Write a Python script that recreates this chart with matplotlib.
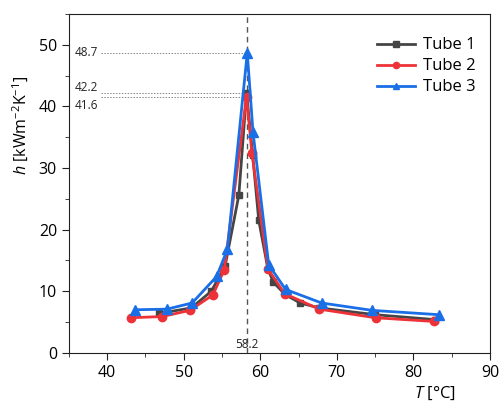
import matplotlib
matplotlib.use("Agg")
import matplotlib.pyplot as plt
from matplotlib.ticker import MultipleLocator

plt.rcParams['font.family'] = ['Open Sans', 'DejaVu Sans']
plt.rcParams['mathtext.fontset'] = 'custom'
plt.rcParams['mathtext.rm'] = 'Open Sans'
plt.rcParams['mathtext.it'] = 'Open Sans:italic'

t1_T = [46.8, 51.0, 53.6, 55.4, 57.2, 58.2, 59.0, 59.8, 61.0, 61.7, 63.2, 65.2, 67.7, 75.0, 82.8]
t1_h = [6.4, 7.3, 10.0, 14.1, 25.6, 42.2, 32.2, 21.5, 13.6, 11.5, 9.5, 8.1, 7.3, 6.2, 5.4]
t2_T = [43.05, 47.2, 50.8, 53.8, 55.3, 58.2, 58.9, 61.0, 63.2, 67.7, 75.05, 82.7]
t2_h = [5.7, 5.9, 6.9, 9.4, 13.5, 41.6, 32.5, 13.6, 9.6, 7.1, 5.7, 5.1]
t3_T = [43.7, 47.8, 51.1, 54.3, 55.7, 58.3, 59.05, 61.1, 63.3, 68.0, 74.6, 83.3]
t3_h = [7.0, 7.1, 8.1, 12.4, 16.8, 48.7, 35.8, 14.3, 10.3, 8.1, 6.9, 6.2]
peak_T = 58.2
peak_labels = [48.7, 42.2, 41.6]

fig = plt.figure(figsize=(4.99, 4.01), dpi=100)
ax = fig.add_axes([0.138, 0.12, 0.844, 0.845])

ax.axvline(peak_T, color='#555555', ls=(0, (4, 3)), lw=1.0, zorder=1)
for v in peak_labels:
    ax.plot([39.2, peak_T], [v, v], color='#888888', ls=(0, (1.5, 1.5)), lw=0.7, zorder=1)
ax.text(35.8, 48.7, '48.7', fontsize=8.5, va='center', ha='left', color='#222222')
ax.text(35.8, 43.1, '42.2', fontsize=8.5, va='center', ha='left', color='#222222')
ax.text(35.8, 40.2, '41.6', fontsize=8.5, va='center', ha='left', color='#222222')
ax.text(peak_T, 0.35, '58.2', fontsize=8.5, va='bottom', ha='center', color='#222222')

ax.plot(t1_T, t1_h, color='#454545', marker='s', ms=5, lw=2, label='Tube 1', zorder=3)
ax.plot(t2_T, t2_h, color='#ee3338', marker='o', ms=6, lw=2, label='Tube 2', zorder=4)
ax.plot(t3_T, t3_h, color='#1a6fe6', marker='^', ms=6.5, lw=2, label='Tube 3', zorder=5)

ax.set_xlim(35, 90)
ax.set_ylim(0, 55)
ax.xaxis.set_major_locator(MultipleLocator(10))
ax.xaxis.set_minor_locator(MultipleLocator(5))
ax.yaxis.set_major_locator(MultipleLocator(10))
ax.yaxis.set_minor_locator(MultipleLocator(5))
ax.tick_params(which='both', direction='out', labelsize=11.5, color='#222222')
ax.tick_params(which='major', length=5)
ax.tick_params(which='minor', length=3)
for s in ax.spines.values():
    s.set_color('#222222')

ax.set_ylabel(r'$h$ [kWm$^{-2}$K$^{-1}$]', fontsize=11.5)
ax.yaxis.set_label_coords(-0.09, 0.67)
ax.set_xlabel(r'$T$ [°C]', fontsize=12)
ax.xaxis.set_label_coords(0.87, -0.095)

leg = ax.legend(loc='upper right', bbox_to_anchor=(1.022, 1.0), frameon=False, fontsize=12,
                handlelength=2.3, borderaxespad=1.0, labelspacing=0.3, markerscale=0.75,
                handletextpad=0.5)

fig.savefig('out.png', dpi=100)
